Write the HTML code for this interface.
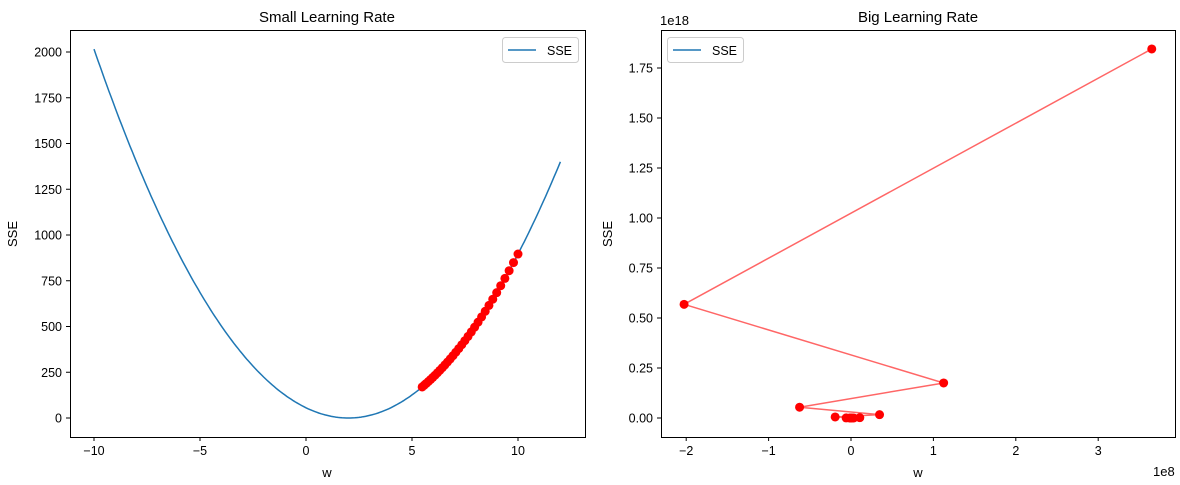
<!DOCTYPE html>
<html><head><meta charset="utf-8"><style>
body{margin:0;background:#fff;}
svg text{font-family:"Liberation Sans","DejaVu Sans",sans-serif;fill:#000;}
</style></head><body>
<svg id="s" width="1180" height="480" xmlns="http://www.w3.org/2000/svg">
<rect width="1180" height="480" fill="#fff"/>
<g id="g"></g>
<text x="327" y="22" font-size="15" text-anchor="middle">Small Learning Rate</text>
<text x="918" y="22" font-size="15" text-anchor="middle">Big Learning Rate</text>
<text x="327" y="477" font-size="13" text-anchor="middle">w</text>
<text x="918" y="477" font-size="13" text-anchor="middle">w</text>
<text transform="translate(17,234) rotate(-90)" font-size="13" text-anchor="middle">SSE</text>
<text transform="translate(612,234) rotate(-90)" font-size="13" text-anchor="middle">SSE</text>
<text x="660" y="25" font-size="13">1e18</text>
<text x="1153" y="476" font-size="13">1e8</text>
</svg>
<script>
var g=document.getElementById('g');var h='';
function L(x1,y1,x2,y2,c,w){h+='<line x1="'+x1+'" y1="'+y1+'" x2="'+x2+'" y2="'+y2+'" stroke="'+c+'" stroke-width="'+(w||1)+'"/>';}
function T(x,y,t,a){h+='<text x="'+x+'" y="'+y+'" font-size="12.5" text-anchor="'+a+'">'+t+'</text>';}
var lx=function(w){return 306+w*21.2;},ly=function(v){return 418-v*0.183;};
var p='';for(var i=0;i<=220;i++){var w=-10+i*0.1;p+=(i?'L':'M')+lx(w).toFixed(1)+','+ly(14*(w-2)*(w-2)).toFixed(1);}
h+='<path d="'+p+'" fill="none" stroke="#1f77b4" stroke-width="1.5"/>';
for(var k=0;k<32;k++){var w=2+8*Math.pow(0.9735,k);h+='<circle cx="'+lx(w)+'" cy="'+ly(14*(w-2)*(w-2))+'" r="4.5" fill="red"/>';}
h+='<rect x="70.5" y="30.5" width="515" height="407" fill="none" stroke="#000"/>';
[-10,-5,0,5,10].forEach(function(v){var x=lx(v);L(x,437,x,441,'#000');T(x,455,v<0?'\u2212'+(-v):v,'middle');});
for(var v=0;v<=2000;v+=250){var y=ly(v);L(66,y,70,y,'#000');T(62,y+4.5,v,'end');}
h+='<rect x="502.5" y="37.5" width="76" height="25" rx="3" fill="#fff" stroke="#ccc"/>';L(508,50,536,50,'#1f77b4',1.5);T(547,55,'SSE','start');
var rx=function(w){return 851+w*82.4;},ry=function(v){return 418-v*200;};
var ws=[3.65],q='';for(var k=1;k<14;k++)ws.push(ws[k-1]*-0.555);
ws.forEach(function(w,k){q+=(k?'L':'M')+rx(w)+','+ry(0.1385*w*w);});
h+='<path d="'+q+'" fill="none" stroke="rgba(255,0,0,0.6)" stroke-width="1.5"/>';
ws.forEach(function(w){h+='<circle cx="'+rx(w)+'" cy="'+ry(0.1385*w*w)+'" r="4.5" fill="red"/>';});
h+='<rect x="661.5" y="30.5" width="514" height="407" fill="none" stroke="#000"/>';
[-2,-1,0,1,2,3].forEach(function(v){var x=rx(v);L(x,437,x,441,'#000');T(x,455,v<0?'\u2212'+(-v):v,'middle');});
for(var v=0;v<=1.751;v+=0.25){var y=ry(v);L(657,y,661,y,'#000');T(653,y+4.5,v.toFixed(2),'end');}
h+='<rect x="667.5" y="37.5" width="76" height="25" rx="3" fill="#fff" stroke="#ccc"/>';L(673,50,701,50,'#1f77b4',1.5);T(712,55,'SSE','start');
g.innerHTML=h;
</script>
</body></html>
